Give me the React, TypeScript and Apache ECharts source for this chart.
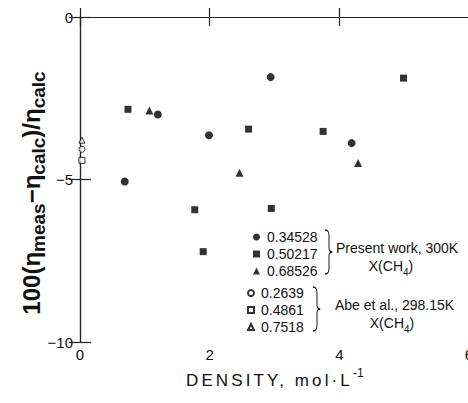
import React, { useEffect, useRef } from "react";
import * as echarts from "echarts";

// ---- data ----
const xTicks = [0, 2, 4, 6];
const yTicks = [0, -5, -10];

const present034528X = [0.69, 1.2, 1.99, 2.94, 4.19];
const present034528Y = [-5.06, -3.0, -3.64, -1.85, -3.88];

const present050217X = [0.74, 1.77, 1.9, 2.6, 2.95, 3.75, 4.99];
const present050217Y = [-2.84, -5.93, -7.22, -3.45, -5.89, -3.52, -1.88];

const present068526X = [1.07, 2.46, 4.29];
const present068526Y = [-2.88, -4.79, -4.49];

const abe02639X = [0.03];
const abe02639Y = [-4.07];
const abe04861X = [0.03];
const abe04861Y = [-4.41];
const abe07518X = [0.03];
const abe07518Y = [-3.79];

const groupPresent = ["0.34528", "0.50217", "0.68526"];
const groupAbe = ["0.2639", "0.4861", "0.7518"];

const FONT = '"Liberation Sans", Arial, Helvetica, sans-serif';

const zip = (xs: number[], ys: number[]) => xs.map((x, i) => [x, ys[i]]);

const bracePath =
  "M0,0 C4,0 5,2 5,6 L5,16 C5,19 6,20 9,20 C6,20 5,21 5,24 L5,34 C5,38 4,40 0,40";

export default function App() {
  const ref = useRef<HTMLDivElement>(null);

  useEffect(() => {
    if (!ref.current) return;
    try {
      echarts.graphic.registerShape("brace", echarts.graphic.extendPath(bracePath, {}) as any);
    } catch (e) {}
    const chart = echarts.init(ref.current, undefined, { renderer: "svg" });

    const axisLine = { lineStyle: { color: "#222", width: 1.2 } };
    const tick = (len: number) => ({ inside: true, length: len, lineStyle: { color: "#222", width: 1.2 } });
    const filled = { color: "#000" };
    const open = { color: "#fff", borderColor: "#000", borderWidth: 1 };
    const subRich = {
      a: { fontSize: 14, fontFamily: FONT, lineHeight: 16, fill: "#111" },
      s: { fontSize: 10, fontFamily: FONT, lineHeight: 10, padding: [9, 0, 0, 0], verticalAlign: "top", fill: "#111" },
    };

    const option: any = {
      animation: false,
      backgroundColor: "#fff",
      grid: { left: 80, right: -1, top: 17, bottom: 61, containLabel: false, outerBoundsMode: "none" },
      xAxis: [
        {
          type: "value",
          min: xTicks[0],
          max: xTicks[xTicks.length - 1],
          interval: 2,
          position: "bottom",
          axisLine,
          axisTick: tick(9),
          axisLabel: { fontSize: 15, color: "#111", margin: 5, fontFamily: FONT },
          splitLine: { show: false },
        },
        {
          type: "value",
          min: xTicks[0],
          max: xTicks[xTicks.length - 1],
          interval: 2,
          position: "top",
          axisLine,
          axisTick: tick(9),
          axisLabel: { show: false },
          splitLine: { show: false },
        },
      ],
      yAxis: [
        {
          type: "value",
          min: yTicks[yTicks.length - 1],
          max: yTicks[0],
          interval: 5,
          position: "left",
          axisLine,
          axisTick: tick(11),
          axisLabel: {
            fontSize: 15,
            color: "#111",
            margin: 7,
            fontFamily: FONT,
            formatter: (v: number) => (v < 0 ? "\u2212" + -v : String(v)),
          },
          splitLine: { show: false },
        },
        {
          type: "value",
          min: yTicks[yTicks.length - 1],
          max: yTicks[0],
          interval: 5,
          position: "right",
          axisLine,
          axisTick: tick(11),
          axisLabel: { show: false },
          splitLine: { show: false },
        },
      ],
      legend: [
        {
          data: groupPresent,
          orient: "vertical",
          left: 248,
          top: 225,
          itemWidth: 7,
          itemHeight: 7,
          itemGap: 3,
          selectedMode: false,
          textStyle: { fontSize: 14, color: "#111", fontFamily: FONT, padding: [0, 0, 0, 2] },
        },
        {
          data: groupAbe,
          orient: "vertical",
          left: 242,
          top: 281,
          itemWidth: 6,
          itemHeight: 6,
          itemGap: 3,
          selectedMode: false,
          textStyle: { fontSize: 14, color: "#111", fontFamily: FONT, padding: [0, 0, 0, 2] },
        },
      ],
      series: [
        { name: groupPresent[0], type: "scatter", symbol: "circle", symbolSize: 8, itemStyle: filled, data: zip(present034528X, present034528Y) },
        { name: groupPresent[1], type: "scatter", symbol: "rect", symbolSize: 7, itemStyle: filled, data: zip(present050217X, present050217Y) },
        { name: groupPresent[2], type: "scatter", symbol: "triangle", symbolSize: 8, itemStyle: filled, data: zip(present068526X, present068526Y) },
        { name: groupAbe[0], type: "scatter", symbol: "circle", symbolSize: 6, itemStyle: open, data: zip(abe02639X, abe02639Y) },
        { name: groupAbe[1], type: "scatter", symbol: "rect", symbolSize: 6, itemStyle: open, data: zip(abe04861X, abe04861Y) },
        { name: groupAbe[2], type: "scatter", symbol: "triangle", symbolSize: 6, itemStyle: open, data: zip(abe07518X, abe07518Y) },
      ],
      graphic: [
        {
          type: "text",
          x: 31,
          y: 193,
          rotation: Math.PI / 2,
          style: {
            text: "{m|100(η}{s|meas}{m|−η}{s|calc}{m|)/η}{s|calc}",
            align: "center",
            verticalAlign: "middle",
            fill: "#111",
            rich: {
              m: { fontSize: 24, fontWeight: "bold", fontFamily: FONT, lineHeight: 30, fill: "#111" },
              s: { fontSize: 19, fontWeight: "bold", fontFamily: FONT, lineHeight: 19, padding: [13, 0, 0, 0], verticalAlign: "top", fill: "#111" },
            },
          },
        },
        {
          type: "text",
          x: 186,
          y: 380,
          style: { text: "DENSITY, mol·L", font: `17px ${FONT}`, fill: "#111", align: "left", verticalAlign: "middle" },
        },
        {
          type: "text",
          x: 353,
          y: 373,
          style: { text: "-1", font: `12px ${FONT}`, fill: "#111", align: "left", verticalAlign: "middle" },
        },
        { type: "brace", x: 325, y: 230, scaleX: 0.8, scaleY: 1.1, style: { stroke: "#111", fill: "none", lineWidth: 1.2 } },
        { type: "brace", x: 313, y: 287, scaleX: 0.8, scaleY: 1.1, style: { stroke: "#111", fill: "none", lineWidth: 1.2 } },
        {
          type: "text",
          x: 336,
          y: 248,
          style: { text: "Present work, 300K", font: `14px ${FONT}`, fill: "#111", align: "left", verticalAlign: "middle" },
        },
        {
          type: "text",
          x: 391,
          y: 266,
          style: { text: "{a|X(CH}{s|4}{a|)}", align: "center", verticalAlign: "middle", fill: "#111", rich: subRich },
        },
        {
          type: "text",
          x: 335,
          y: 305,
          style: { text: "Abe et al., 298.15K", font: `14px ${FONT}`, fill: "#111", align: "left", verticalAlign: "middle" },
        },
        {
          type: "text",
          x: 392,
          y: 323,
          style: { text: "{a|X(CH}{s|4}{a|)}", align: "center", verticalAlign: "middle", fill: "#111", rich: subRich },
        },
      ],
    };

    chart.setOption(option);

    // widen the letter spacing of the x-axis title as in the reference
    const spread = () => {
      const dom = chart.getDom();
      dom.querySelectorAll("text").forEach((t) => {
        if ((t.textContent || "").startsWith("DENSITY")) t.setAttribute("letter-spacing", "3.1");
      });
    };
    spread();
    chart.on("finished", spread);

    return () => chart.dispose();
  }, []);

  return (
    <div
      ref={ref}
      style={{ position: "fixed", left: 0, top: 0, width: 468, height: 403, background: "#fff" }}
    />
  );
}
